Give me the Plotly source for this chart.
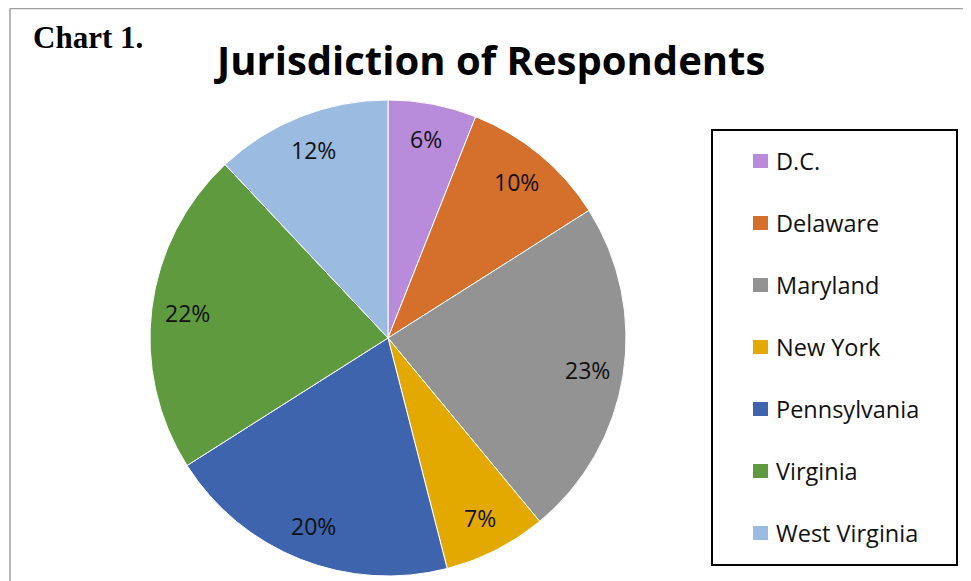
import math
import plotly.graph_objects as go

labels = ["D.C.", "Delaware", "Maryland", "New York", "Pennsylvania", "Virginia", "West Virginia"]
values = [6, 10, 23, 7, 20, 22, 12]
colors = ["#B98BDB", "#D4702C", "#939393", "#E3A900", "#3E64AD", "#609A3E", "#9BBBE0"]

W, H = 971, 581
OFF = 8  # page body margin
CX, CY, R = 388, 338, 238

def px(x):
    return (x - OFF) / W

def py(y):
    return 1 - (y - OFF) / H

fig = go.Figure()
fig.add_trace(go.Pie(
    labels=labels, values=values, sort=False, direction="clockwise", rotation=0,
    marker=dict(colors=colors, line=dict(color="white", width=1)),
    textinfo="none", hoverinfo="label+percent", showlegend=False,
    domain=dict(x=[px(CX - R), px(CX + R)], y=[py(CY + R), py(CY - R)]),
))

annotations = []
total = sum(values)
cum = 0
for lab, v in zip(labels, values):
    mid = (cum + v / 2) / total * 2 * math.pi
    cum += v
    rr = 0.85 * R
    x = CX + rr * math.sin(mid)
    y = CY - rr * math.cos(mid)
    annotations.append(dict(x=px(x), y=py(y), xref="paper", yref="paper",
                            xanchor="center", yanchor="middle",
                            text=f"{round(v / total * 100)}%", showarrow=False,
                            font=dict(family="Open Sans", size=23, color="#111111")))

gray = "#a0a0a0"
shapes = [
    dict(type="line", xref="paper", yref="paper", x0=px(10), x1=px(10), y0=py(8.5), y1=py(620),
         line=dict(color=gray, width=1.5)),
    dict(type="line", xref="paper", yref="paper", x0=px(10), x1=px(969), y0=py(8.5), y1=py(8.5),
         line=dict(color=gray, width=1.5)),
    dict(type="line", xref="paper", yref="paper", x0=px(969), x1=px(969), y0=py(8.5), y1=py(620),
         line=dict(color=gray, width=1.5)),
    dict(type="rect", xref="paper", yref="paper", x0=px(712), x1=px(957), y0=py(130), y1=py(565),
         line=dict(color="black", width=2), fillcolor="white"),
]

for i, (lab, c) in enumerate(zip(labels, colors)):
    yc = 161 + 62 * i
    shapes.append(dict(type="rect", xref="paper", yref="paper",
                       x0=px(753), x1=px(768), y0=py(yc + 7), y1=py(yc - 7),
                       line=dict(width=0), fillcolor=c))
    annotations.append(dict(x=px(774), y=py(yc), xref="paper", yref="paper", xanchor="left",
                            yanchor="middle", text=lab, showarrow=False,
                            font=dict(family="Open Sans", size=23.5, color="#111111")))

annotations.append(dict(x=px(31), y=py(38), xref="paper", yref="paper", xanchor="left",
                        yanchor="middle", text="<b>Chart 1.</b>", showarrow=False,
                        font=dict(family="Liberation Serif", size=31, color="black")))
annotations.append(dict(x=px(489), y=py(60), xref="paper", yref="paper", xanchor="center",
                        yanchor="middle", text="<b>Jurisdiction of Respondents</b>", showarrow=False,
                        font=dict(family="Open Sans", size=40, color="black")))

fig.update_layout(
    width=W, height=H, margin=dict(l=0, r=0, t=0, b=0),
    paper_bgcolor="white", plot_bgcolor="white",
    shapes=shapes, annotations=annotations,
)

fig.write_html("out.html")
